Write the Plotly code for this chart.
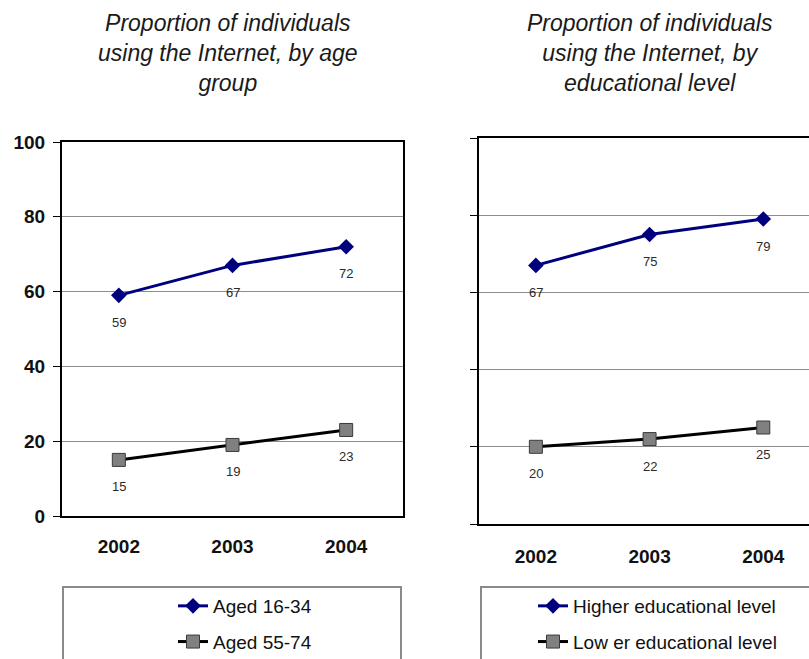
import plotly.graph_objects as go

W, H = 809, 659

# --- data ---
years = ["2002", "2003", "2004"]
age_young = [59, 67, 72]       # Aged 16-34
age_old = [15, 19, 23]         # Aged 55-74
edu_higher = [67, 75, 79]      # Higher educational level
edu_lower = [20, 22, 25]       # Lower educational level

title_left = "Proportion of individuals<br>using the Internet, by age<br>group"
title_right = "Proportion of individuals<br>using the Internet, by<br>educational level"

FONT = "Liberation Sans, Arial, sans-serif"
NAVY = "#00007f"


def px_x(v):
    return v / W


def px_y(v):
    return 1 - v / H


fig = go.Figure()


def add_pair(hi, lo, hi_name, lo_name, xa, ya, legend):
    fig.add_trace(go.Scatter(
        x=years, y=hi, name=hi_name, mode="lines+markers",
        line=dict(color=NAVY, width=3),
        marker=dict(symbol="diamond", size=12, color=NAVY),
        xaxis=xa, yaxis=ya, legend=legend, legendgroup=hi_name,
    ))
    fig.add_trace(go.Scatter(
        x=years, y=lo, name=lo_name, mode="lines+markers",
        line=dict(color="black", width=3),
        marker=dict(symbol="square", size=13, color="#808080",
                    line=dict(color="#3a3a3a", width=1)),
        xaxis=xa, yaxis=ya, legend=legend, legendgroup=lo_name,
    ))
    # value labels under each point (category axes take the category index)
    for series in (hi, lo):
        for i, v in enumerate(series):
            fig.add_annotation(
                x=i, y=v, xref=xa, yref=ya, text=str(v), showarrow=False,
                yshift=-27, font=dict(family=FONT, size=13, color="#2a2a2a"),
            )


add_pair(age_young, age_old, "Aged 16-34", "Aged 55-74", "x", "y", "legend")
add_pair(edu_higher, edu_lower, "Higher educational level",
         "Low er educational level", "x2", "y2", "legend2")

axis_line = dict(showline=True, linecolor="black", linewidth=2)
tick_font = dict(family=FONT, size=19, color="#111111", weight="bold")

fig.update_layout(
    width=W, height=H,
    margin=dict(l=0, r=0, t=0, b=0, autoexpand=False),
    paper_bgcolor="white", plot_bgcolor="white",
    showlegend=True,
    xaxis=dict(domain=[px_x(62), px_x(403)], range=[-0.5, 2.5], type="category",
               mirror=True, ticks="", tickfont=tick_font, ticklabelstandoff=12,
               showgrid=False, zeroline=False, **axis_line),
    yaxis=dict(domain=[px_y(516), px_y(142)], range=[0, 100], dtick=20,
               mirror=True, ticks="outside", ticklen=7, tickcolor="black",
               tickwidth=1, tickfont=tick_font, ticklabelstandoff=4,
               showgrid=True, gridcolor="#8c8c8c", gridwidth=1, zeroline=False,
               **axis_line),
    xaxis2=dict(domain=[px_x(479), 1.0], range=[-0.5, 2.402], type="category",
                anchor="y2", mirror=True, ticks="", tickfont=tick_font,
                ticklabelstandoff=14, showgrid=False, zeroline=False,
                **axis_line),
    yaxis2=dict(domain=[px_y(524), px_y(138)], range=[0, 100], dtick=20,
                anchor="x2", mirror=False, ticks="outside", ticklen=7,
                tickcolor="black", tickwidth=1, showticklabels=False,
                showgrid=True, gridcolor="#8c8c8c", gridwidth=1,
                zeroline=False, **axis_line),
    legend=dict(x=px_x(173), y=px_y(587), xanchor="left", yanchor="top",
                bgcolor="rgba(0,0,0,0)", tracegroupgap=8,
                font=dict(family=FONT, size=19, color="#111111")),
    legend2=dict(x=px_x(533), y=px_y(587), xanchor="left", yanchor="top",
                 bgcolor="rgba(0,0,0,0)", tracegroupgap=8,
                 font=dict(family=FONT, size=19, color="#111111")),
)

# Legend frames, running off the bottom of the page
for x0, x1 in ((63, 401), (481, 830)):
    fig.add_shape(type="rect", xref="paper", yref="paper",
                  x0=px_x(x0), x1=px_x(x1), y0=px_y(700), y1=px_y(587),
                  line=dict(color="#8a8a8a", width=2), fillcolor="rgba(0,0,0,0)")

# Panel titles
for cx, txt in ((228, title_left), (650, title_right)):
    fig.add_annotation(
        x=px_x(cx), y=px_y(53), xref="paper", yref="paper", text=txt,
        showarrow=False, xanchor="center", yanchor="middle", align="center",
        font=dict(family=FONT, size=23, color="#1a1a1a", style="italic"),
    )

fig.write_html("out.html")
